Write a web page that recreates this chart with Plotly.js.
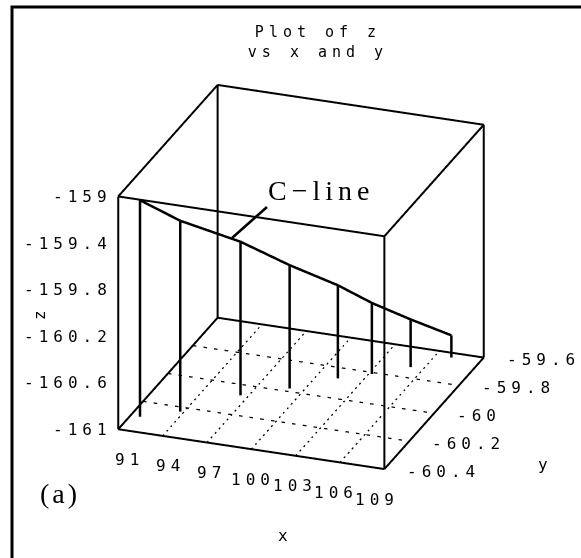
<!DOCTYPE html>
<html>
<head>
<meta charset="utf-8">
<script src="https://cdn.plot.ly/plotly-3.0.1.min.js"></script>
<style>
  html, body { margin: 0; padding: 0; background: #fff; }
  #chart { width: 581px; height: 558px; }
  /* wide plotter-style spacing for the title and the tick/axis labels */
  .gtitle, .annotation-text { letter-spacing: 5px; }
</style>
</head>
<body>
<div id="chart"></div>
<script>
// Axis ticks
const xTicks = [91, 94, 97, 100, 103, 106, 109];
const yTicks = [-60.4, -60.2, -60, -59.8, -59.6];
const zTicks = [-161, -160.6, -160.2, -159.8, -159.4, -159];

// C-line samples (x, y, z)
const cX = [91.63, 93.77, 96.5, 99.06, 101.4, 103.2, 105.15, 107.06];
const cY = [-60.30, -60.23, -60.07, -59.98, -59.87, -59.81, -59.73, -59.63];
const cZ = [-159.14, -159.36, -159.68, -159.94, -160.20, -160.39, -160.59, -160.81];

const xR = [xTicks[0], xTicks[xTicks.length - 1]];
const yR = [yTicks[0], yTicks[yTicks.length - 1]];
const zR = [zTicks[0], zTicks[zTicks.length - 1]];
// axis ranges get a hair of padding so edges lying on the bounds are not clipped
const pad = r => [r[0] - (r[1] - r[0]) * 0.002, r[1] + (r[1] - r[0]) * 0.002];

const traces = [];
const lineTrace = (x, y, z, line) => ({
  type: 'scatter3d', mode: 'lines', x, y, z, connectgaps: false,
  line, hoverinfo: 'skip', showlegend: false
});

// Bounding box: the twelve edges, each as its own segment
const edgeList = [
  [0,0,0, 1,0,0], [1,0,0, 1,1,0], [1,1,0, 0,1,0], [0,1,0, 0,0,0],
  [0,0,1, 1,0,1], [1,0,1, 1,1,1], [1,1,1, 0,1,1], [0,1,1, 0,0,1],
  [0,0,0, 0,0,1], [1,0,0, 1,0,1], [1,1,0, 1,1,1], [0,1,0, 0,1,1]
];
edgeList.forEach(e => traces.push(lineTrace(
  [xR[e[0]], xR[e[3]]], [yR[e[1]], yR[e[4]]], [zR[e[2]], zR[e[5]]],
  { color: '#000', width: 4 })));

// Dotted floor grid at the tick positions
const gx = [], gy = [], gz = [];
xTicks.slice(1, -1).forEach(t => { gx.push(t, t, null); gy.push(yR[0], yR[1], null); gz.push(zR[0], zR[0], null); });
yTicks.slice(1, -1).forEach(t => { gx.push(xR[0], xR[1], null); gy.push(t, t, null); gz.push(zR[0], zR[0], null); });
traces.push(lineTrace(gx, gy, gz, { color: '#000', width: 2.5, dash: 'dot' }));

// Drop lines from each sample down to the floor
const dx = [], dy = [], dz = [];
cX.forEach((v, i) => { dx.push(v, v, null); dy.push(cY[i], cY[i], null); dz.push(cZ[i], zR[0], null); });
traces.push(lineTrace(dx, dy, dz, { color: '#000', width: 5 }));

// The C-line itself
traces.push(lineTrace(cX, cY, cZ, { color: '#000', width: 5 }));

const monoFont = { family: 'DejaVu Sans Mono', size: 16, color: '#000' };
const axisBase = {
  showbackground: false, showgrid: false, zeroline: false, showline: false,
  showspikes: false, showticklabels: false, ticks: '', title: { text: '' }
};

// Tick labels placed at their 3D positions along the front edges
const sceneAnn = [];
xTicks.forEach(t => sceneAnn.push({
  x: t, y: yR[0], z: zR[0], text: String(t), showarrow: false,
  xanchor: 'center', yanchor: 'middle', xshift: (100 - t) + 2, yshift: -30, font: monoFont
}));
yTicks.forEach(t => sceneAnn.push({
  x: xR[1], y: t, z: zR[0], text: String(t), showarrow: false,
  xanchor: 'left', yanchor: 'middle', xshift: 21, yshift: -2, font: monoFont
}));
zTicks.forEach(t => sceneAnn.push({
  x: xR[0], y: yR[0], z: t, text: String(t), showarrow: false,
  xanchor: 'right', yanchor: 'middle', xshift: -4, yshift: 0, font: monoFont
}));

const layout = {
  width: 581, height: 558,
  margin: { l: 0, r: 0, t: 0, b: 0 },
  paper_bgcolor: '#fff',
  showlegend: false,
  title: {
    text: 'Plot of z<br>vs x and y',
    font: { family: 'DejaVu Sans Mono', size: 15, color: '#000' },
    x: 318 / 581, xanchor: 'center', y: 1 - 37 / 558, yanchor: 'middle'
  },
  scene: {
    domain: { x: [0.036, 1], y: [0.007, 1] },
    aspectmode: 'manual',
    aspectratio: { x: 1.027, y: 1.05, z: 0.925 },
    camera: {
      projection: { type: 'orthographic' },
      up: { x: 0, y: 0, z: 1 },
      center: { x: 0, y: 0, z: 0 },
      eye: { x: 0.688, y: -1.884, z: 0.901 }
    },
    xaxis: Object.assign({}, axisBase, { range: pad(xR) }),
    yaxis: Object.assign({}, axisBase, { range: pad(yR) }),
    zaxis: Object.assign({}, axisBase, { range: pad(zR) }),
    annotations: sceneAnn
  },
  shapes: [{
    type: 'rect', xref: 'paper', yref: 'paper',
    x0: 12 / 581, x1: 1.05, y0: -0.05, y1: 1 - 7 / 558,
    line: { color: '#000', width: 3 }
  }],
  annotations: [
    { xref: 'paper', yref: 'paper', x: 232 / 581, y: 1 - 238 / 558,
      ax: 35, ay: -31, xanchor: 'left', yanchor: 'bottom', borderpad: 0,
      text: '<span style="letter-spacing:5px">C\u2212line</span>', showarrow: true, arrowhead: 0,
      arrowwidth: 2.5, arrowcolor: '#000', standoff: 0,
      font: { family: 'Liberation Serif', size: 28, color: '#000' } },
    { xref: 'paper', yref: 'paper', x: 60 / 581, y: 1 - 493 / 558,
      xanchor: 'center', yanchor: 'middle',
      text: '<span style="letter-spacing:3px">(a)</span>', showarrow: false,
      font: { family: 'Liberation Serif', size: 28, color: '#000' } },
    { xref: 'paper', yref: 'paper', x: 285 / 581, y: 1 - 535 / 558,
      xanchor: 'center', yanchor: 'middle',
      text: 'x', showarrow: false, font: monoFont },
    { xref: 'paper', yref: 'paper', x: 545 / 581, y: 1 - 464 / 558,
      xanchor: 'center', yanchor: 'middle',
      text: 'y', showarrow: false, font: monoFont },
    { xref: 'paper', yref: 'paper', x: 40 / 581, y: 1 - 312 / 558,
      xanchor: 'center', yanchor: 'middle',
      text: 'z', textangle: -90, showarrow: false, font: monoFont }
  ]
};

Plotly.newPlot('chart', traces, layout, { displayModeBar: false });
</script>
</body>
</html>
